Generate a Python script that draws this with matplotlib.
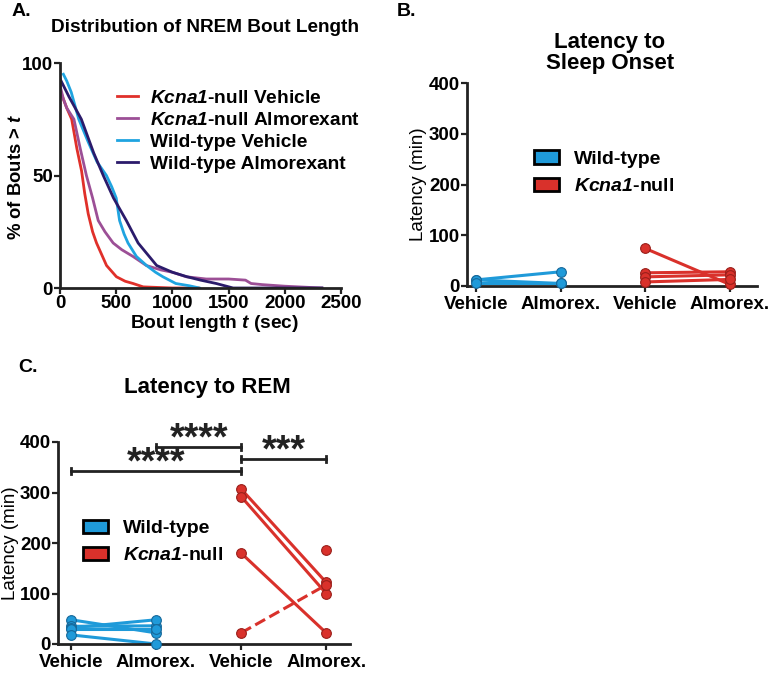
import numpy as np
import matplotlib.pyplot as plt
from matplotlib.patches import Patch

plt.rcParams['font.family'] = ['Liberation Sans', 'DejaVu Sans']
plt.rcParams['font.weight'] = 'bold'
plt.rcParams['mathtext.fontset'] = 'custom'
plt.rcParams['mathtext.it'] = 'Liberation Sans:italic:bold'
plt.rcParams['mathtext.rm'] = 'Liberation Sans:italic:bold'

# Panel A: survival of NREM bout length
ko_veh_t = [0, 30, 60, 104, 150, 192, 220, 251, 290, 325, 414, 502, 580, 650, 740, 1000, 1230]
ko_veh_p = [88, 84, 80, 75, 62, 52, 42, 33, 25, 20, 10, 5, 3, 2, 0.5, 0, 0]
ko_alm_t = [0, 30, 60, 124, 180, 235, 290, 340, 400, 473, 550, 650, 768, 900, 1000, 1123, 1300,
            1500, 1650, 1700, 1800, 2000, 2330]
ko_alm_p = [90, 84, 80, 75, 62, 50, 40, 30, 25, 20, 17, 14, 10, 8, 7, 5, 4, 4, 3.5, 2, 1.5, 0.8, 0]
wt_veh_t = [30, 60, 100, 167, 250, 330, 413, 460, 500, 530, 570, 605, 680, 770, 850, 915, 1030, 1150, 1240]
wt_veh_p = [95, 92, 87, 75, 65, 56, 50, 45, 40, 30, 24, 20, 14, 10, 7, 5, 2, 1, 0]
wt_alm_t = [0, 30, 80, 190, 300, 385, 476, 590, 695, 860, 1000, 1130, 1250, 1390, 1540, 2330]
wt_alm_p = [93, 90, 85, 75, 60, 50, 40, 30, 20, 10, 7, 5, 3.5, 2, 0, 0]

# Panel B: latency to sleep onset (min)
b_wt_veh = [12, 12, 5]
b_wt_alm = [28, 5, 5]
b_ko_veh = [74, 26, 18, 8]
b_ko_alm = [3, 28, 22, 13]

# Panel C: latency to REM (min)
c_wt_veh = [48, 35, 32, 30, 18]
c_wt_alm = [22, 36, 48, 30, 0]
c_ko_veh = [307, 292, 180, 22]
c_ko_alm = [122, 100, 22, 117]
c_ko_dashed = [False, False, False, True]
c_ko_alm_single = [187]

groups = ['Vehicle', 'Almorex.', 'Vehicle', 'Almorex.']

W, H = 772, 675
BLUE = '#1f9ad9'
RED = '#d9312b'
BLUE_EDGE = '#16689a'
RED_EDGE = '#9a1f1a'
INK = '#222222'


def rect(l, t, r, b):
    return [l / W, 1 - b / H, (r - l) / W, (b - t) / H]


def ftext(x, y, s, **kw):
    fig.text(x / W, 1 - y / H, s, **kw)


def style(ax):
    for s in ['top', 'right']:
        ax.spines[s].set_visible(False)
    for s in ['left', 'bottom']:
        ax.spines[s].set_linewidth(2.0)
        ax.spines[s].set_color(INK)
    ax.tick_params(width=1.6, length=4, labelsize=13, color=INK, pad=1)
    for lab in ax.get_xticklabels() + ax.get_yticklabels():
        lab.set_fontweight('bold')


fig = plt.figure(figsize=(W / 100, H / 100), dpi=100)

# ---- A ----
axA = fig.add_axes(rect(60, 63, 341, 288))
axA.plot(ko_veh_t, ko_veh_p, color='#e0302a', lw=2, label=r'$Kcna1$-null Vehicle')
axA.plot(ko_alm_t, ko_alm_p, color='#9c4f96', lw=2, label=r'$Kcna1$-null Almorexant')
axA.plot(wt_veh_t, wt_veh_p, color='#1fa4e0', lw=2, label='Wild-type Vehicle')
axA.plot(wt_alm_t, wt_alm_p, color='#2b1b6b', lw=2, label='Wild-type Almorexant')
axA.set_xlim(0, 2500)
axA.set_ylim(0, 100)
axA.set_xticks([0, 500, 1000, 1500, 2000, 2500])
axA.set_yticks([0, 50, 100])
style(axA)
axA.tick_params(labelsize=13.5)
axA.legend(loc='upper left', bbox_to_anchor=(100 / W, 1 - 72 / H), bbox_transform=fig.transFigure,
           frameon=False, fontsize=13.8, handlelength=1.1, labelspacing=0.24, handletextpad=0.6)
ftext(12, 12, 'A.', fontsize=14, fontweight='bold', va='center')
ftext(205, 28, 'Distribution of NREM Bout Length', fontsize=13.7, fontweight='bold', ha='center', va='center')
ftext(214, 323, r'Bout length $t$ (sec)', fontsize=13.8, fontweight='bold', ha='center', va='center')
ftext(17, 177, r'% of Bouts > $t$', fontsize=13.3, fontweight='bold', ha='center', va='center',
      rotation=90)


def pairs(ax, xs, veh, alm, color, edge, dashed=None):
    for i, (v, a) in enumerate(zip(veh, alm)):
        ls = '--' if dashed is not None and dashed[i] else '-'
        ax.plot(xs, [v, a], color=color, lw=2.2, ls=ls, zorder=2)
    ax.plot([xs[0]] * len(veh), veh, 'o', ms=7, mfc=color, mec=edge, mew=0.8, zorder=3, clip_on=False)
    ax.plot([xs[1]] * len(alm), alm, 'o', ms=7, mfc=color, mec=edge, mew=0.8, zorder=3, clip_on=False)


def cat_axes(ax, xl):
    ax.set_xlim(*xl)
    ax.set_ylim(0, 400)
    ax.set_xticks(range(4))
    ax.set_xticklabels(groups)
    ax.set_yticks([0, 100, 200, 300, 400])
    style(ax)
    ax.tick_params(axis='x', labelsize=13.5, pad=3)
    ax.tick_params(axis='y', labelsize=13.5)


handles = [Patch(facecolor=BLUE, edgecolor='black', lw=2, label='Wild-type'),
           Patch(facecolor=RED, edgecolor='black', lw=2, label=r'$Kcna1$-null')]
leg_kw = dict(bbox_transform=fig.transFigure, frameon=False, fontsize=14, handlelength=1.3,
              handleheight=0.7, labelspacing=0.5, handletextpad=0.8, loc='upper left')

# ---- B ----
axB = fig.add_axes(rect(467, 83, 757, 286))
pairs(axB, [0, 1], b_wt_veh, b_wt_alm, BLUE, BLUE_EDGE)
pairs(axB, [2, 3], b_ko_veh, b_ko_alm, RED, RED_EDGE)
cat_axes(axB, (-0.106, 3.32))
axB.legend(handles=handles, bbox_to_anchor=(516 / W, 1 - 133 / H), **leg_kw)
ftext(397, 12, 'B.', fontsize=14, fontweight='bold', va='center')
ftext(610, 53, 'Latency to\nSleep Onset', fontsize=16, fontweight='bold', ha='center', va='center',
      linespacing=1.05)
axB.set_ylabel('Latency (min)', fontsize=13.5, fontweight='normal')
axB.yaxis.set_label_coords(-0.138, 0.5)

# ---- C ----
axC = fig.add_axes(rect(58, 442, 350, 644))
pairs(axC, [0, 1], c_wt_veh, c_wt_alm, BLUE, BLUE_EDGE)
pairs(axC, [2, 3], c_ko_veh, c_ko_alm, RED, RED_EDGE, dashed=c_ko_dashed)
axC.plot([3] * len(c_ko_alm_single), c_ko_alm_single, 'o', ms=7, mfc=RED, mec=RED_EDGE, mew=0.8, zorder=3)
cat_axes(axC, (-0.153, 3.28))
axC.legend(handles=handles, bbox_to_anchor=(65 / W, 1 - 502 / H), **leg_kw)
ftext(18, 367, 'C.', fontsize=14, fontweight='bold', va='center')
ftext(207, 387, 'Latency to REM', fontsize=16, fontweight='bold', ha='center', va='center')
axC.set_ylabel('Latency (min)', fontsize=13.5, fontweight='normal')
axC.yaxis.set_label_coords(-0.132, 0.5)

# significance brackets
sig = [(0, 2, 342, '****'), (1, 2, 390, '****'), (2, 3, 366, '***')]
for x0, x1, y, s in sig:
    axC.plot([x0, x1], [y, y], color=INK, lw=2, clip_on=False)
    axC.plot([x0, x0], [y - 6, y + 6], color=INK, lw=2, clip_on=False)
    axC.plot([x1, x1], [y - 6, y + 6], color=INK, lw=2, clip_on=False)
    axC.annotate(s, xy=((x0 + x1) / 2, y), xytext=(0, -1.5), textcoords='offset points',
                 fontsize=27, fontweight='bold', ha='center', va='baseline', color=INK,
                 annotation_clip=False)

fig.savefig('out.png', dpi=100)
